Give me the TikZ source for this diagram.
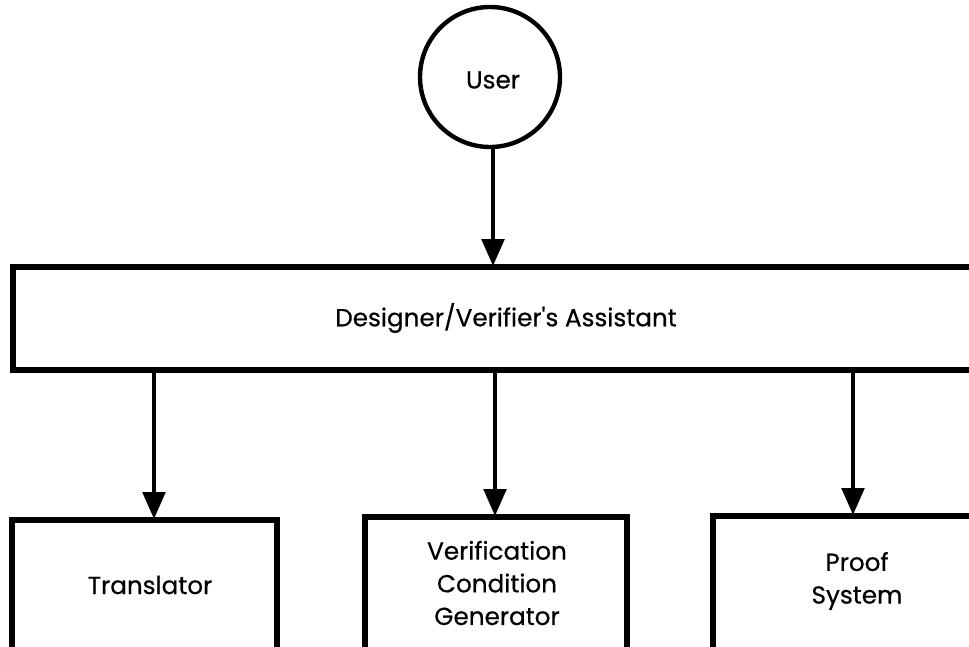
\documentclass[tikz,border=0pt]{standalone}
\usepackage{fontspec}
\setmainfont{Poppins}[Ligatures=TeXOff, FakeBold=0.5]
\usetikzlibrary{arrows.meta,calc}
\begin{document}
\begin{tikzpicture}[x=0.75pt,y=-0.75pt,
  every node/.style={font=\fontsize{18.5}{24.5}\selectfont, align=center},
  frame/.style={draw=black, line width=3.8pt, rectangle, inner sep=0pt},
  ring/.style={draw=black, line width=3.3pt, circle, inner sep=0pt, minimum size=140*0.75pt},
  lbl/.style={inner sep=0pt},
  arr/.style={draw=black, line width=2.4pt, -{Triangle[width=17pt,length=20pt]}, shorten >=-1pt}
]
\useasboundingbox (0,0) rectangle (969,646);
\clip (0,0) rectangle (969,646);
\fill[white] (0,0) rectangle (969,646);

% user
\node[ring] (user) at (490,77) {};
\node[lbl] (usertxt) at (493,80) {User};

% central assistant bar (runs off the right edge)
\node[frame, minimum width=1000*0.75pt, minimum height=103*0.75pt] (dva) at (513,318.5) {};
\node[lbl] (dvatxt) at (506,318) {Designer/Verifier's Assistant};

% lower components (run off the bottom edge)
\node[frame, minimum width=265*0.75pt, minimum height=160*0.75pt] (transbox) at (144.5,600) {};
\node[lbl] (trans) at (150,585) {Translator};

\node[frame, minimum width=262*0.75pt, minimum height=160*0.75pt] (vcgbox) at (496,597) {};
\node[lbl] (vcg) at (497,583) {Verification\\Condition\\Generator};

\node[frame, minimum width=300*0.75pt, minimum height=160*0.75pt] (proofbox) at (863,596) {};
\node[lbl] (proof) at (857,581) {Proof\\System};

% connectors
\draw[arr] (user.south -| 493,0) -- (dva.north -| 493,0);
\draw[arr] (dva.south -| 154,0) -- (transbox.north -| 154,0);
\draw[arr] (dva.south -| 495,0) -- (vcgbox.north -| 495,0);
\draw[arr] (dva.south -| 853,0) -- (proofbox.north -| 853,0);
\end{tikzpicture}
\end{document}
